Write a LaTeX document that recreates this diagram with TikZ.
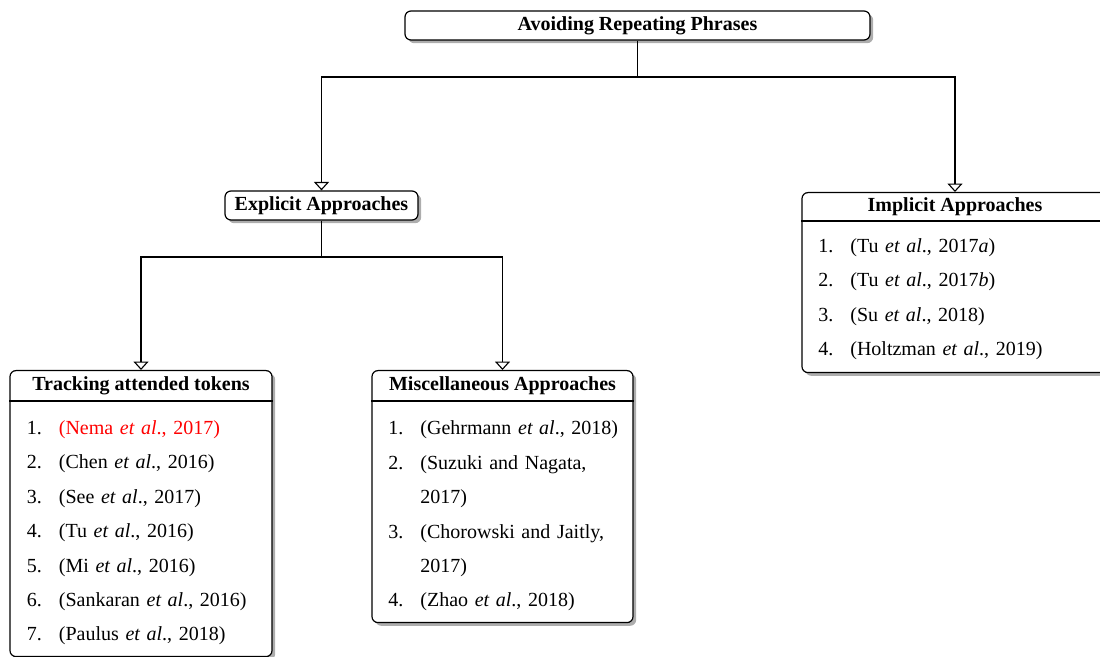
\documentclass[tikz,border=0pt]{standalone}
\usepackage{fontspec}
\setmainfont{Liberation Serif}
\usetikzlibrary{arrows.meta,shadows}

% one list entry: number in a fixed column, wrapped lines hang under the text
\newcommand\listentry[2]{\hangindent=16pt\hangafter=1\noindent\makebox[16pt][l]{#1}#2\par}

\tikzset{
  box/.style={draw, line width=0.6pt, rounded corners=3pt, fill=white, inner sep=0pt,
    drop shadow={shadow xshift=1.6pt, shadow yshift=-1.6pt, fill=black!32, opacity=1}},
  heading/.style={font=\bfseries, inner sep=0pt},
  itemlist/.style={inner sep=0pt, align=left, anchor=base west,
    font=\fontsize{10}{17.2}\selectfont},
  wire/.style={line width=0.55pt},
  link/.style={wire, -{Triangle[open, width=7.5pt, length=4.2pt]}},
}

\begin{document}
\begin{tikzpicture}[x=0.5pt, y=-0.5pt]
\clip (0,0) rectangle (1100,657);

% top level
\node[box, heading, minimum width=232.5pt, minimum height=14.5pt] (root) at (637.5,25.5) {Avoiding Repeating Phrases};

% second level
\node[box, heading, minimum width=96.5pt, minimum height=14.5pt] (expl) at (321.5,205.5) {Explicit Approaches};

\node[box, minimum width=153pt, minimum height=90pt, anchor=north] (impl) at (955,192) {};
\node[heading] (implT) at (955,206.5) {Implicit Approaches};
\draw[wire] ([yshift=-14.5pt]impl.north west) -- ([yshift=-14.5pt]impl.north east);
\node[itemlist, text width=135pt] (implL) at (818,252.5) {%
  \listentry{1.}{(Tu \textit{et al}., 2017\textit{a})}
  \listentry{2.}{(Tu \textit{et al}., 2017\textit{b})}
  \listentry{3.}{(Su \textit{et al}., 2018)}
  \listentry{4.}{(Holtzman \textit{et al}., 2019)}};

% third level
\node[box, minimum width=131pt, minimum height=143pt, anchor=north] (track) at (141,370) {};
\node[heading] (trackT) at (141,385.5) {Tracking attended tokens};
\draw[wire] ([yshift=-15.5pt]track.north west) -- ([yshift=-15.5pt]track.north east);
\node[itemlist, text width=118pt] (trackL) at (26.5,434.5) {%
  \listentry{1.}{\textcolor{red}{(Nema \textit{et al}., 2017)}}
  \listentry{2.}{(Chen \textit{et al}., 2016)}
  \listentry{3.}{(See \textit{et al}., 2017)}
  \listentry{4.}{(Tu \textit{et al}., 2016)}
  \listentry{5.}{(Mi \textit{et al}., 2016)}
  \listentry{6.}{(Sankaran \textit{et al}., 2016)}
  \listentry{7.}{(Paulus \textit{et al}., 2018)}};

\node[box, minimum width=130.5pt, minimum height=126pt, anchor=north] (misc) at (502.5,370) {};
\node[heading] (miscT) at (502.5,385.5) {Miscellaneous Approaches};
\draw[wire] ([yshift=-15.5pt]misc.north west) -- ([yshift=-15.5pt]misc.north east);
\node[itemlist, text width=118pt] (miscL) at (388,435) {%
  \listentry{1.}{(Gehrmann \textit{et al}., 2018)}
  \listentry{2.}{(Suzuki and Nagata, 2017)}
  \listentry{3.}{(Chorowski and Jaitly, 2017)}
  \listentry{4.}{(Zhao \textit{et al}., 2018)}};

% connectors
\coordinate (j0) at (637.5,77);
\coordinate (j1) at (321.5,257);
\draw[wire] (root.south) -- (j0);
\draw[link] (j0) -| (expl.north);
\draw[link] (j0) -| (impl.north);
\draw[wire] (expl.south) -- (j1);
\draw[link] (j1) -| (track.north);
\draw[link] (j1) -| (misc.north);
\end{tikzpicture}
\end{document}
